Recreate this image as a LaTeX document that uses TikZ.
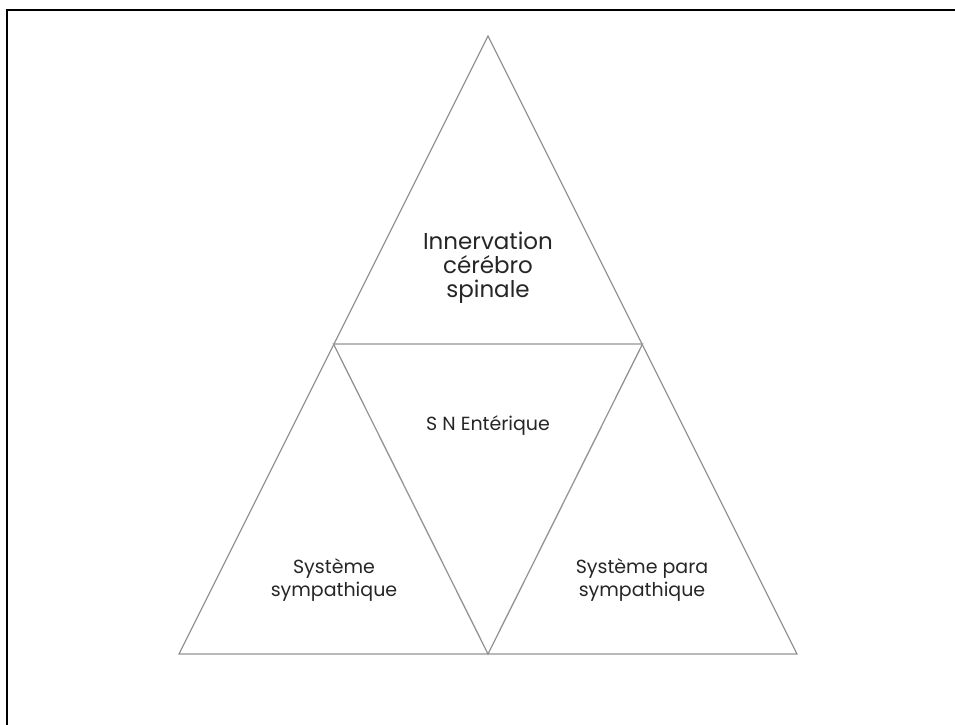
\documentclass[tikz,border=0pt]{standalone}
\usepackage{fontspec}
\setmainfont{Poppins}
\begin{document}
\begin{tikzpicture}[x=1pt,y=-1pt,
  edge/.style={draw=black!42,line width=1.3pt,line join=miter},
  frame/.style={draw=black,line width=2pt},
  bigtxt/.style={align=center,font=\fontsize{23}{24}\selectfont,text=black!85,inner sep=0pt},
  smalltxt/.style={align=center,font=\fontsize{19}{22.5}\selectfont,text=black!85,inner sep=0pt}]
\useasboundingbox (0,0) rectangle (955,724);
\draw[frame] (7,726) -- (7,10) -- (957,10);
\coordinate (apex) at (488,36);
\coordinate (bl) at (179,654);
\coordinate (br) at (797,654);
\coordinate (ml) at (333.5,344);
\coordinate (mr) at (642.5,344);
\coordinate (bm) at (488,654);
\draw[edge] (apex) -- (br) -- (bl) -- cycle;
\draw[edge] (ml) -- (mr) -- (bm) -- cycle;
\node[bigtxt,anchor=base] (cns) at (488,297) {Innervation\\cérébro\\spinale};
\node[smalltxt,anchor=base] (sne) at (488,430) {S N Entérique};
\node[smalltxt,anchor=base] (sym) at (334,596) {Système\\sympathique};
\node[smalltxt,anchor=base] (para) at (642,596) {Système para\\sympathique};
\end{tikzpicture}
\end{document}
